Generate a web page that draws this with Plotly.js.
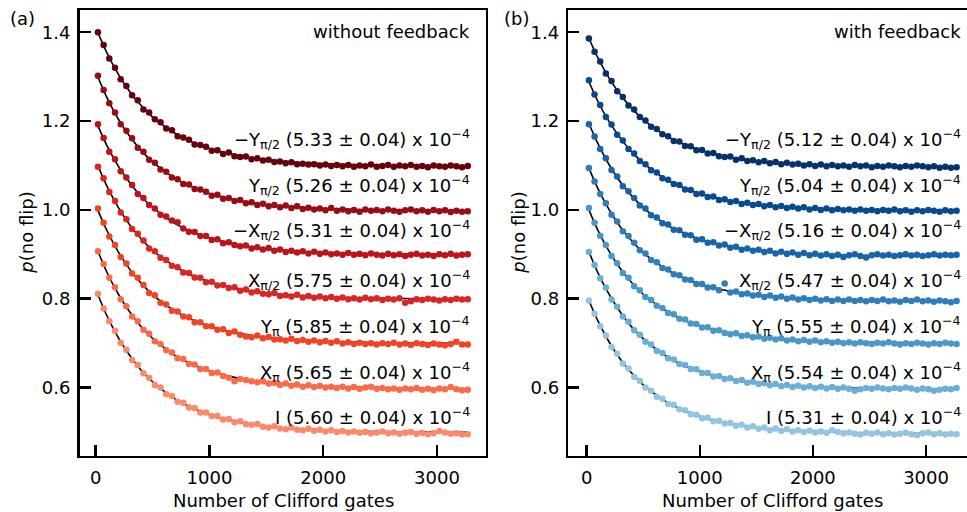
<!DOCTYPE html>
<html><head><meta charset="utf-8">
<script src="https://cdn.plot.ly/plotly-3.0.1.min.js"></script>
<style>html,body{margin:0;padding:0;background:#fff}#chart{width:967px;height:512px}</style>
</head><body><div id="chart"></div>
<script>
// Number of Clifford gates (data sampling)
const gates = [20,70,120,170,220,270,320,370,420,470,520,570,620,670,720,770,820,870,920,970,1020,1070,1120,1170,1220,1270,1320,1370,1420,1470,1520,1570,1620,1670,1720,1770,1820,1870,1920,1970,2020,2070,2120,2170,2220,2270,2320,2370,2420,2470,2520,2570,2620,2670,2720,2770,2820,2870,2920,2970,3020,3070,3120,3170,3220,3270];
// Fit curve sampling
const fitGates = [20,100,200,300,400,500,600,700,800,1000,1200,1400,1700,2000,2500,3000,3280];

// Panel (a): without feedback
const aNegYhalf = [1.400,1.371,1.341,1.320,1.294,1.279,1.258,1.247,1.226,1.219,1.204,1.197,1.183,1.179,1.166,1.163,1.158,1.147,1.146,1.142,1.133,1.134,1.126,1.129,1.121,1.119,1.120,1.114,1.116,1.111,1.113,1.108,1.109,1.105,1.107,1.103,1.104,1.102,1.103,1.100,1.102,1.099,1.101,1.098,1.101,1.097,1.100,1.098,1.102,1.097,1.099,1.101,1.097,1.100,1.098,1.101,1.097,1.099,1.096,1.100,1.098,1.097,1.100,1.098,1.096,1.099];
const aYhalf = [1.302,1.270,1.240,1.219,1.193,1.178,1.161,1.140,1.131,1.113,1.106,1.091,1.086,1.073,1.069,1.058,1.057,1.047,1.046,1.041,1.032,1.034,1.025,1.027,1.020,1.022,1.015,1.017,1.011,1.014,1.008,1.011,1.006,1.010,1.004,1.008,1.002,1.005,1.001,1.003,0.999,1.004,0.998,1.001,0.997,1.000,0.996,1.001,0.998,1.000,0.997,1.001,0.998,0.996,0.999,1.001,0.997,0.999,0.996,1.000,0.997,0.999,0.995,0.998,0.996,0.997];
const aNegXhalf = [1.193,1.162,1.131,1.114,1.087,1.073,1.056,1.036,1.027,1.011,1.003,0.989,0.985,0.976,0.972,0.958,0.951,0.950,0.941,0.941,0.932,0.934,0.925,0.927,0.921,0.918,0.920,0.913,0.916,0.911,0.914,0.908,0.911,0.905,0.908,0.904,0.907,0.902,0.906,0.901,0.904,0.900,0.902,0.899,0.903,0.899,0.901,0.898,0.902,0.899,0.897,0.901,0.898,0.900,0.896,0.899,0.901,0.897,0.899,0.896,0.900,0.898,0.901,0.897,0.899,0.900];
const aXhalf = [1.097,1.071,1.040,1.020,0.994,0.979,0.957,0.946,0.931,0.913,0.907,0.892,0.887,0.874,0.871,0.859,0.858,0.848,0.847,0.837,0.838,0.830,0.831,0.824,0.826,0.818,0.821,0.814,0.817,0.811,0.810,0.813,0.806,0.808,0.805,0.809,0.803,0.806,0.802,0.805,0.801,0.804,0.800,0.803,0.799,0.801,0.798,0.802,0.799,0.801,0.797,0.800,0.798,0.801,0.791,0.794,0.799,0.797,0.800,0.798,0.796,0.799,0.797,0.800,0.798,0.799];
const aYpi = [1.003,0.971,0.940,0.921,0.894,0.879,0.857,0.847,0.831,0.813,0.808,0.791,0.787,0.773,0.771,0.760,0.758,0.747,0.747,0.738,0.738,0.730,0.731,0.723,0.726,0.719,0.715,0.713,0.717,0.711,0.714,0.708,0.709,0.706,0.710,0.705,0.707,0.703,0.706,0.702,0.705,0.701,0.704,0.699,0.702,0.698,0.701,0.698,0.700,0.697,0.700,0.698,0.701,0.697,0.699,0.696,0.700,0.698,0.696,0.699,0.697,0.695,0.698,0.703,0.697,0.697];
const aXpi = [0.907,0.878,0.847,0.826,0.799,0.783,0.760,0.749,0.730,0.721,0.704,0.698,0.684,0.679,0.666,0.664,0.653,0.652,0.642,0.642,0.633,0.634,0.626,0.622,0.614,0.619,0.617,0.614,0.612,0.614,0.609,0.611,0.606,0.609,0.604,0.607,0.602,0.605,0.601,0.604,0.600,0.602,0.599,0.602,0.598,0.601,0.597,0.600,0.602,0.597,0.599,0.596,0.598,0.595,0.598,0.596,0.599,0.595,0.597,0.594,0.598,0.596,0.601,0.596,0.594,0.595];
const aI = [0.811,0.778,0.749,0.728,0.701,0.685,0.662,0.651,0.632,0.622,0.606,0.600,0.585,0.581,0.568,0.566,0.555,0.554,0.544,0.544,0.536,0.536,0.528,0.529,0.522,0.524,0.518,0.516,0.518,0.512,0.510,0.513,0.508,0.506,0.510,0.505,0.504,0.507,0.503,0.505,0.501,0.504,0.500,0.502,0.499,0.501,0.498,0.500,0.497,0.499,0.501,0.497,0.499,0.496,0.498,0.500,0.496,0.498,0.495,0.497,0.502,0.499,0.496,0.497,0.494,0.495];

// Panel (b): with feedback
const bNegYhalf = [1.386,1.356,1.334,1.307,1.290,1.267,1.254,1.235,1.226,1.209,1.201,1.187,1.182,1.170,1.166,1.155,1.154,1.144,1.143,1.134,1.135,1.127,1.128,1.121,1.119,1.120,1.113,1.116,1.110,1.112,1.107,1.110,1.105,1.108,1.103,1.106,1.102,1.104,1.100,1.103,1.099,1.102,1.098,1.101,1.098,1.100,1.097,1.101,1.098,1.100,1.096,1.099,1.097,1.100,1.098,1.096,1.099,1.097,1.100,1.098,1.096,1.098,1.095,1.097,1.095,1.096];
const bYhalf = [1.292,1.260,1.236,1.209,1.192,1.169,1.156,1.137,1.127,1.110,1.103,1.089,1.084,1.071,1.068,1.058,1.056,1.046,1.045,1.036,1.037,1.029,1.030,1.022,1.024,1.018,1.020,1.013,1.016,1.011,1.013,1.008,1.011,1.006,1.009,1.004,1.007,1.003,1.006,1.001,1.004,1.000,1.003,0.999,1.002,0.999,1.001,0.998,1.001,0.998,1.000,0.997,1.000,0.998,1.001,0.997,0.999,0.996,0.999,0.997,1.000,0.998,0.996,0.999,0.997,0.998];
const bNegXhalf = [1.193,1.165,1.137,1.116,1.090,1.075,1.053,1.042,1.027,1.010,1.003,0.988,0.983,0.970,0.967,0.955,0.954,0.944,0.943,0.933,0.934,0.926,0.927,0.920,0.922,0.915,0.917,0.910,0.913,0.908,0.910,0.905,0.908,0.902,0.906,0.901,0.904,0.899,0.903,0.898,0.901,0.897,0.900,0.896,0.899,0.894,0.898,0.900,0.896,0.893,0.898,0.900,0.897,0.899,0.896,0.898,0.900,0.897,0.899,0.896,0.898,0.900,0.897,0.899,0.898,0.899];
const bXhalf = [1.094,1.064,1.036,1.015,0.989,0.974,0.952,0.941,0.926,0.909,0.902,0.887,0.882,0.869,0.866,0.855,0.853,0.843,0.842,0.833,0.833,0.825,0.826,0.819,0.834,0.814,0.816,0.810,0.812,0.807,0.809,0.804,0.807,0.802,0.805,0.800,0.803,0.798,0.801,0.797,0.800,0.796,0.799,0.795,0.798,0.795,0.798,0.795,0.797,0.794,0.797,0.795,0.798,0.794,0.796,0.793,0.797,0.795,0.798,0.794,0.796,0.793,0.796,0.794,0.792,0.795];
const bYpi = [1.004,0.971,0.942,0.921,0.896,0.880,0.858,0.847,0.828,0.819,0.804,0.797,0.784,0.779,0.768,0.765,0.755,0.753,0.744,0.743,0.735,0.736,0.728,0.729,0.723,0.720,0.722,0.716,0.718,0.713,0.715,0.710,0.712,0.708,0.711,0.706,0.708,0.704,0.707,0.703,0.706,0.702,0.704,0.701,0.703,0.700,0.702,0.699,0.702,0.700,0.698,0.701,0.699,0.702,0.699,0.697,0.700,0.698,0.701,0.699,0.697,0.700,0.698,0.701,0.699,0.698];
const bXpi = [0.905,0.876,0.846,0.825,0.798,0.782,0.760,0.748,0.729,0.719,0.703,0.697,0.683,0.678,0.666,0.663,0.653,0.651,0.642,0.641,0.633,0.633,0.625,0.626,0.619,0.621,0.615,0.617,0.611,0.613,0.608,0.610,0.605,0.608,0.603,0.606,0.601,0.604,0.600,0.603,0.599,0.602,0.598,0.601,0.597,0.600,0.597,0.593,0.596,0.599,0.597,0.600,0.598,0.596,0.599,0.597,0.600,0.598,0.595,0.598,0.596,0.593,0.595,0.597,0.596,0.599];
const bI = [0.796,0.766,0.738,0.717,0.691,0.676,0.654,0.643,0.624,0.615,0.600,0.593,0.579,0.575,0.563,0.561,0.551,0.549,0.540,0.539,0.531,0.532,0.524,0.525,0.519,0.520,0.514,0.516,0.510,0.513,0.507,0.510,0.504,0.508,0.503,0.506,0.501,0.504,0.500,0.503,0.499,0.501,0.498,0.504,0.500,0.497,0.499,0.496,0.494,0.498,0.496,0.499,0.495,0.497,0.494,0.496,0.498,0.495,0.493,0.497,0.499,0.495,0.497,0.494,0.496,0.495];

// Fitted curves
const aFitNegYhalf = [1.399,1.353,1.305,1.266,1.235,1.209,1.189,1.172,1.158,1.138,1.125,1.116,1.108,1.104,1.101,1.100,1.099];
const aFitYhalf    = [1.299,1.252,1.204,1.165,1.134,1.108,1.088,1.071,1.057,1.037,1.024,1.015,1.007,1.003,1.000,0.999,0.998];
const aFitNegXhalf = [1.189,1.144,1.098,1.061,1.030,1.006,0.986,0.969,0.956,0.937,0.924,0.915,0.908,0.904,0.901,0.900,0.899];
const aFitXhalf    = [1.099,1.053,1.005,0.966,0.935,0.909,0.889,0.872,0.858,0.838,0.825,0.816,0.808,0.804,0.801,0.800,0.799];
const aFitYpi      = [0.999,0.953,0.905,0.866,0.835,0.809,0.789,0.772,0.758,0.738,0.725,0.716,0.708,0.704,0.701,0.700,0.699];
const aFitXpi      = [0.907,0.859,0.810,0.770,0.737,0.711,0.690,0.672,0.658,0.637,0.624,0.614,0.606,0.602,0.599,0.598,0.597];
const aFitI        = [0.809,0.761,0.712,0.672,0.639,0.613,0.592,0.574,0.560,0.539,0.526,0.516,0.508,0.504,0.501,0.500,0.499];
const bFitNegYhalf = [1.387,1.342,1.296,1.259,1.228,1.204,1.184,1.167,1.154,1.135,1.122,1.113,1.106,1.102,1.099,1.098,1.097];
const bFitYhalf    = [1.289,1.244,1.198,1.161,1.130,1.106,1.086,1.069,1.056,1.037,1.024,1.015,1.008,1.004,1.001,1.000,0.999];
const bFitNegXhalf = [1.195,1.149,1.101,1.062,1.031,1.005,0.985,0.968,0.954,0.934,0.921,0.912,0.904,0.900,0.897,0.896,0.895];
const bFitXhalf    = [1.094,1.048,1.000,0.961,0.930,0.904,0.884,0.867,0.853,0.833,0.820,0.811,0.803,0.799,0.796,0.795,0.794];
const bFitYpi      = [1.000,0.954,0.906,0.867,0.836,0.810,0.790,0.773,0.759,0.739,0.726,0.717,0.709,0.705,0.702,0.701,0.700];
const bFitXpi      = [0.906,0.858,0.809,0.769,0.736,0.710,0.689,0.671,0.657,0.636,0.623,0.613,0.605,0.601,0.598,0.597,0.596];
const bFitI        = [0.796,0.750,0.702,0.663,0.632,0.606,0.586,0.569,0.555,0.535,0.522,0.513,0.505,0.501,0.498,0.497,0.496];

// Labels
const gateNames = ['−Y<sub>π/2</sub>','Y<sub>π/2</sub>','−X<sub>π/2</sub>','X<sub>π/2</sub>','Y<sub>π</sub>','X<sub>π</sub>','I'];
const ratesA = ['5.33','5.26','5.31','5.75','5.85','5.65','5.60'];
const ratesB = ['5.12','5.04','5.16','5.47','5.55','5.54','5.31'];
const rateErr = '0.04';
const yTicks = [0.6,0.8,1.0,1.2,1.4];
const xTicks = [0,1000,2000,3000];

// Styles
const redColors  = ['#67000d','#990c13','#bc141a','#d92623','#f14425','#fb6a4a','#fc8a6a'];
const blueColors = ['#08306b','#084a92','#1764ab','#2e7ebc','#4a98c9','#6baed6','#94c4df'];
const labelYpx = [139,185,230,279.5,326,371.5,415.5];

const dataA = [aNegYhalf,aYhalf,aNegXhalf,aXhalf,aYpi,aXpi,aI];
const dataB = [bNegYhalf,bYhalf,bNegXhalf,bXhalf,bYpi,bXpi,bI];
const fitA = [aFitNegYhalf,aFitYhalf,aFitNegXhalf,aFitXhalf,aFitYpi,aFitXpi,aFitI];
const fitB = [bFitNegYhalf,bFitYhalf,bFitNegXhalf,bFitXhalf,bFitYpi,bFitXpi,bFitI];

const traces = [];
function addPanel(data, fits, colors, xa, ya){
  for(let i=0;i<data.length;i++){
    traces.push({x: fitGates, y: fits[i], xaxis: xa, yaxis: ya, mode:'lines',
      line:{color:'black', width:1.6, shape:'spline', smoothing:1}, hoverinfo:'skip'});
  }
  for(let i=0;i<data.length;i++){
    traces.push({x: gates, y: data[i], xaxis: xa, yaxis: ya, mode:'markers',
      marker:{color:colors[i], size:6.5, line:{width:0}}});
  }
}
addPanel(dataA, fitA, redColors, 'x', 'y');
addPanel(dataB, fitB, blueColors, 'x2', 'y2');

const W = 967, H = 512;
const font = {family:'DejaVu Sans, Verdana, sans-serif', size:18, color:'black'};
const yDom = [(H-455.5)/H, (H-10)/H];
const axBase = {showgrid:false, zeroline:false, ticks:'inside', ticklen:11, tickwidth:2.5, tickcolor:'black',
  showline:true, linewidth:2.5, linecolor:'black', tickfont:font};

const layout = {
  width: W, height: H, margin:{l:0,r:0,t:0,b:0},
  paper_bgcolor:'white', plot_bgcolor:'white', showlegend:false, font: font,
  xaxis: Object.assign({}, axBase, {domain:[79.5/W, 485.5/W], range:[-142,3426], tickvals:xTicks, mirror:true, anchor:'y', ticklabelstandoff:4}),
  yaxis: Object.assign({}, axBase, {domain:yDom, range:[0.447,1.450], tickvals:yTicks, tickformat:'.1f', mirror:true, anchor:'x', ticklabelstandoff:3}),
  xaxis2: Object.assign({}, axBase, {domain:[568.3/W, 1], range:[-162,3362], tickvals:xTicks, mirror:true, anchor:'y2', ticklabelstandoff:4}),
  yaxis2: Object.assign({}, axBase, {domain:yDom, range:[0.447,1.450], tickvals:yTicks, tickformat:'.1f', mirror:false, anchor:'x2', ticklabelstandoff:3}),
  annotations: []
};
const ann = layout.annotations;
function txt(text, xpx, ypx, xanchor, extra){
  ann.push(Object.assign({text:text, xref:'paper', yref:'paper', x:xpx/W, y:(H-ypx)/H,
    xanchor:xanchor, yanchor:'middle', showarrow:false, font:font}, extra||{}));
}
txt('(a)', 22, 18, 'center');
txt('(b)', 516, 18, 'center');
txt('without feedback', 472, 31, 'right');
txt('with feedback', 963, 31, 'right');
for(let i=0;i<7;i++){
  txt(gateNames[i]+' ('+ratesA[i]+' ± '+rateErr+') x 10<sup>−4</sup>', 472, labelYpx[i], 'right');
  txt(gateNames[i]+' ('+ratesB[i]+' ± '+rateErr+') x 10<sup>−4</sup>', 963, labelYpx[i], 'right');
}
txt('Number of Clifford gates', 283, 500, 'center');
txt('Number of Clifford gates', 772, 500, 'center');
txt('<i>p</i>(no flip)', 27, 232.7, 'center', {textangle:-90});
txt('<i>p</i>(no flip)', 519, 232.7, 'center', {textangle:-90});

Plotly.newPlot('chart', traces, layout, {staticPlot:true, displayModeBar:false});
</script>
</body></html>
